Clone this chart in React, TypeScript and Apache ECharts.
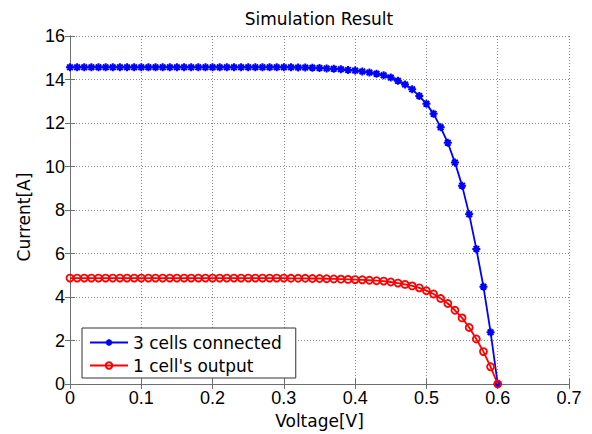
import React, { useEffect, useRef } from "react";
import * as echarts from "echarts";

const voltage = [
  0, 0.01, 0.02, 0.03, 0.04, 0.05, 0.06, 0.07, 0.08, 0.09,
  0.1, 0.11, 0.12, 0.13, 0.14, 0.15, 0.16, 0.17, 0.18, 0.19,
  0.2, 0.21, 0.22, 0.23, 0.24, 0.25, 0.26, 0.27, 0.28, 0.29,
  0.3, 0.31, 0.32, 0.33, 0.34, 0.35, 0.36, 0.37, 0.38, 0.39,
  0.4, 0.41, 0.42, 0.43, 0.44, 0.45, 0.46, 0.47, 0.48, 0.49,
  0.5, 0.51, 0.52, 0.53, 0.54, 0.55, 0.56, 0.57, 0.58, 0.59, 0.6,
];

const threeCells = [
  14.56, 14.56, 14.56, 14.56, 14.56, 14.56, 14.56, 14.56, 14.56, 14.56,
  14.56, 14.56, 14.56, 14.56, 14.56, 14.56, 14.56, 14.56, 14.56, 14.56,
  14.56, 14.56, 14.56, 14.56, 14.56, 14.56, 14.56, 14.56, 14.56, 14.56,
  14.56, 14.56, 14.55, 14.55, 14.54, 14.53, 14.51, 14.49, 14.47, 14.44,
  14.41, 14.37, 14.32, 14.26, 14.19, 14.09, 13.94, 13.77, 13.55, 13.24,
  12.88, 12.42, 11.8, 11.09, 10.18, 9.12, 7.8, 6.21, 4.47, 2.38, 0,
];

const oneCell = [
  4.87, 4.87, 4.87, 4.87, 4.87, 4.87, 4.87, 4.87, 4.87, 4.87,
  4.87, 4.87, 4.87, 4.87, 4.87, 4.87, 4.87, 4.87, 4.87, 4.87,
  4.87, 4.87, 4.87, 4.87, 4.87, 4.87, 4.87, 4.87, 4.87, 4.87,
  4.87, 4.86, 4.86, 4.86, 4.85, 4.85, 4.84, 4.83, 4.82, 4.81,
  4.8, 4.79, 4.77, 4.75, 4.73, 4.69, 4.64, 4.58, 4.51, 4.42,
  4.29, 4.14, 3.93, 3.7, 3.39, 3.04, 2.6, 2.07, 1.49, 0.79, 0,
];

const xTickLabels = ["0", "0.1", "0.2", "0.3", "0.4", "0.5", "0.6", "0.7"];
const yTickLabels = ["0", "2", "4", "6", "8", "10", "12", "14", "16"];

const seriesNames = ["3 cells connected", "1 cell's output"];
const titleText = "Simulation Result";
const xName = "Voltage[V]";
const yName = "Current[A]";

const tickFont = "Arial, 'Liberation Sans', sans-serif";
const textFont = "'DejaVu Sans', sans-serif";
const axisGrey = "#6e6e6e";
const gridGrey = "#8a8a8a";

const asterisk =
  "path://M10 0L10 20M0 10L20 10M3 3L17 17M3 17L17 3";

export default function App() {
  const ref = useRef<HTMLDivElement | null>(null);

  useEffect(() => {
    document.body.style.margin = "0";
    if (!ref.current) return;
    const chart = echarts.init(ref.current, undefined, { renderer: "svg" });

    const pairs = (ys: number[]) => voltage.map((v, i) => [v, ys[i]]);

    const boxAxisCommon = {
      axisLine: { show: true, lineStyle: { color: axisGrey, width: 1 } },
      axisTick: { show: true, inside: true, length: 5, lineStyle: { color: axisGrey } },
    };

    chart.setOption({
      animation: false,
      backgroundColor: "#ffffff",
      grid: { left: 70, right: 23, top: 36, bottom: 46, containLabel: false },
      graphic: [
        {
          type: "text",
          x: 319,
          y: 18.5,
          style: {
            text: titleText,
            font: `17px ${textFont}`,
            fill: "#000",
            textAlign: "center",
            textVerticalAlign: "middle",
          },
        },
        {
          type: "text",
          x: 23.5,
          y: 217,
          rotation: Math.PI / 2,
          style: {
            text: yName,
            font: `17px ${textFont}`,
            fill: "#000",
            textAlign: "center",
            textVerticalAlign: "middle",
          },
        },
      ],
      xAxis: [
        {
          type: "value",
          position: "bottom",
          min: 0,
          max: 0.7,
          interval: 0.1,
          name: xName,
          nameLocation: "middle",
          nameGap: 28,
          nameTextStyle: { fontFamily: textFont, fontSize: 17, color: "#000" },
          ...boxAxisCommon,
          axisLabel: {
            margin: 5,
            color: "#000",
            fontFamily: tickFont,
            fontSize: 18,
            formatter: (v: number) => xTickLabels[Math.round(v * 10)],
          },
          splitLine: { show: true, lineStyle: { color: gridGrey, type: [1, 2], width: 1 } },
        },
        {
          type: "value",
          position: "top",
          min: 0,
          max: 0.7,
          interval: 0.1,
          ...boxAxisCommon,
          axisLabel: { show: false },
          splitLine: { show: false },
        },
      ],
      yAxis: [
        {
          type: "value",
          position: "left",
          min: 0,
          max: 16,
          interval: 2,
          ...boxAxisCommon,
          axisLabel: {
            margin: 5,
            color: "#000",
            fontFamily: tickFont,
            fontSize: 18,
            formatter: (v: number) => yTickLabels[Math.round(v / 2)],
          },
          splitLine: { show: true, lineStyle: { color: gridGrey, type: [1, 2], width: 1 } },
        },
        {
          type: "value",
          position: "right",
          min: 0,
          max: 16,
          interval: 2,
          ...boxAxisCommon,
          axisLabel: { show: false },
          splitLine: { show: false },
        },
      ],
      legend: {
        orient: "vertical",
        left: 82,
        top: 328,
        padding: [6, 14, 4, 7],
        itemGap: 6,
        itemWidth: 38,
        itemHeight: 8,
        backgroundColor: "#ffffff",
        borderColor: "#333333",
        borderWidth: 1,
        borderRadius: 0,
        textStyle: { fontFamily: textFont, fontSize: 17, color: "#000" },
        data: seriesNames,
      },
      series: [
        {
          name: seriesNames[0],
          type: "line",
          data: pairs(threeCells),
          symbol: asterisk,
          symbolSize: 8,
          showAllSymbol: true,
          lineStyle: { color: "#0000ff", width: 1.8 },
          itemStyle: { color: "#0000ff", borderColor: "#0000ff", borderWidth: 2 },
          emphasis: { disabled: true },
          z: 2,
        },
        {
          name: seriesNames[1],
          type: "line",
          data: pairs(oneCell),
          symbol: "circle",
          symbolSize: 7,
          showAllSymbol: true,
          lineStyle: { color: "#ff0000", width: 1.8 },
          itemStyle: { color: "rgba(255,255,255,0)", borderColor: "#ff0000", borderWidth: 1.8 },
          emphasis: { disabled: true },
          z: 3,
        },
      ],
    });

    return () => chart.dispose();
  }, []);

  return <div ref={ref} style={{ width: 592, height: 434 }} />;
}
